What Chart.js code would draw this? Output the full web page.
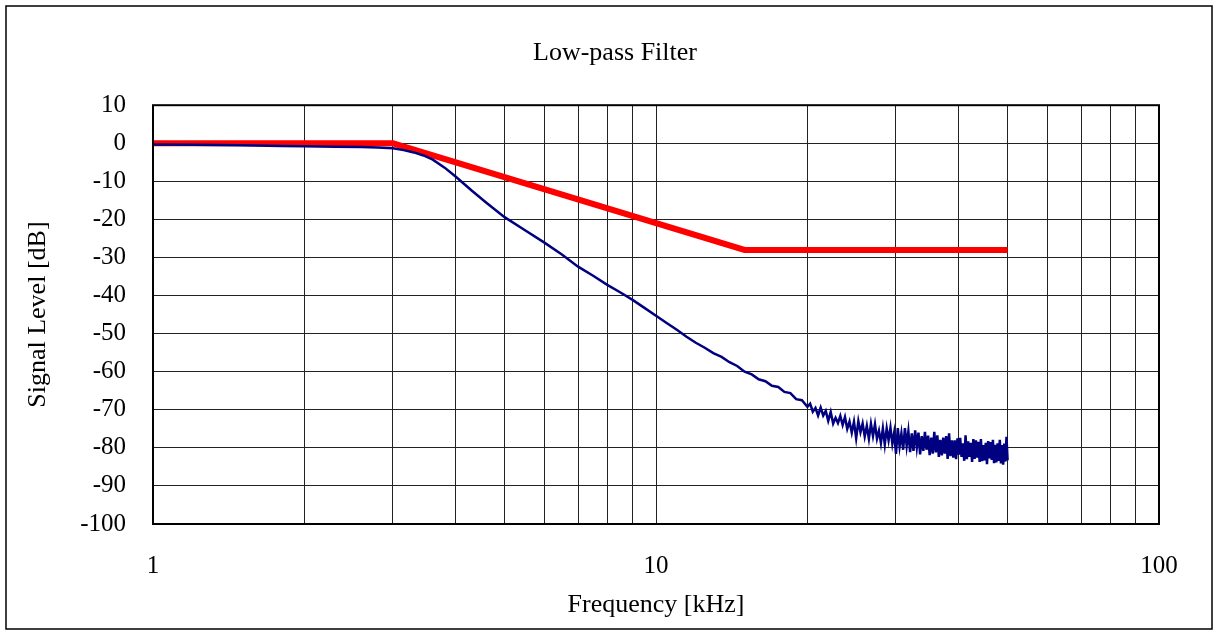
<!DOCTYPE html>
<html>
<head>
<meta charset="utf-8">
<title>Low-pass Filter</title>
<script src="https://cdn.jsdelivr.net/npm/chart.js@4"></script>
<style>
  body { margin: 0; background: #fff; }
  canvas { display: block; }
</style>
</head>
<body>
<canvas id="lpf" width="1216" height="635"></canvas>
<script>
// Measured response (blue), kHz / dB
const measuredFreq = [
  1, 1.2, 1.5, 1.8, 2, 2.3, 2.6, 2.8, 3, 3.15, 3.3, 3.45, 3.6, 3.8, 4, 4.3, 4.6,
  5, 5.5, 6, 6.5, 7, 7.5, 8, 8.5, 9, 9.5, 10, 10.5, 11, 11.5, 12,
  12.5, 13, 13.5, 14, 14.5, 15, 15.5, 16, 16.5, 17, 17.5, 18, 18.5, 19, 19.5, 20,
  20.25, 20.5, 20.75, 21, 21.25, 21.5, 21.75, 22, 22.25, 22.5, 22.75, 23,
  23.25, 23.5, 23.75, 24, 24.25, 24.5, 24.75, 25, 25.25, 25.5, 25.75, 26,
  26.25, 26.5, 26.75, 27, 27.25, 27.5, 27.75, 28, 28.25, 28.5, 28.75, 29,
  29.25, 29.5, 29.75, 30, 30.25, 30.5, 30.75, 31, 31.25, 31.5, 31.75, 32,
  32.25, 32.5, 32.75, 33, 33.25, 33.5, 33.75, 34, 34.25, 34.5, 34.75, 35,
  35.25, 35.5, 35.75, 36, 36.25, 36.5, 36.75, 37, 37.25, 37.5, 37.75, 38,
  38.25, 38.5, 38.75, 39, 39.25, 39.5, 39.75, 40, 40.25, 40.5, 40.75, 41,
  41.25, 41.5, 41.75, 42, 42.25, 42.5, 42.75, 43, 43.25, 43.5, 43.75, 44,
  44.25, 44.5, 44.75, 45, 45.25, 45.5, 45.75, 46, 46.25, 46.5, 46.75, 47,
  47.25, 47.5, 47.75, 48, 48.25, 48.5, 48.75, 49, 49.25, 49.5, 49.75, 50
];
const measuredLevel = [
  -0.3, -0.4, -0.5, -0.7, -0.8, -0.9, -1.0, -1.1, -1.3, -1.8, -2.4, -3.2, -4.3, -6.4, -8.8, -12.4, -15.6,
  -19.4, -22.9, -26.1, -29.2, -32.4, -34.8, -37.2, -39.2, -41.2, -43.3, -45.3, -47.2, -49.0, -50.8, -52.4,
  -53.7, -55.1, -56.1, -57.5, -58.5, -60.0, -60.7, -62.0, -62.5, -63.7, -64.0, -65.3, -65.6, -67.2, -67.5, -69.2,
  -68.4, -70.5, -69.5, -71.5, -69.4, -71.5, -70.3, -72.9, -70.6, -73.6, -72.1, -73.5,
  -71.6, -74.0, -71.9, -75.0, -73.1, -76.0, -73.1, -77.5, -73.0, -75.9, -73.6, -77.0,
  -74.2, -77.6, -73.7, -76.9, -73.8, -77.6, -75.5, -78.7, -74.9, -79.1, -74.9, -78.0,
  -74.7, -78.9, -76.0, -81.6, -74.8, -79.6, -76.2, -80.5, -74.8, -79.5, -75.7, -81.1,
  -76.2, -80.8, -75.4, -79.8, -76.0, -81.7, -76.9, -80.8, -75.8, -80.5, -76.8, -81.9,
  -77.3, -81.5, -75.8, -81.2, -76.7, -82.4, -77.9, -82.0, -77.3, -81.5, -76.9, -82.9,
  -76.2, -82.2, -78.0, -82.6, -78.0, -83.0, -77.5, -81.8, -77.4, -82.4, -78.8, -83.4,
  -76.7, -83.0, -78.3, -82.4, -78.7, -83.7, -77.7, -82.9, -78.0, -82.6, -78.4, -83.7,
  -77.7, -83.5, -79.3, -83.3, -78.7, -84.3, -78.2, -82.8, -78.5, -83.2, -77.9, -84.0,
  -79.2, -83.8, -78.8, -83.4, -77.9, -84.1, -79.3, -84.4, -78.9, -83.6, -77.1, -83.3
];

// Specification mask (red)
const maskFreq = [1, 3, 15, 50];
const maskLevel = [0, 0, -28, -28];

// Axes
const xGrid = [1, 2, 3, 4, 5, 6, 7, 8, 9, 10, 20, 30, 40, 50, 60, 70, 80, 90, 100];
const xTickLabels = [1, 10, 100];
const yMin = -100, yMax = 10, yStep = 10;

const serif = "'Liberation Serif', 'Times New Roman', serif";

const frame = {
  id: 'frame',
  afterDraw(chart) {
    const { ctx, chartArea: a } = chart;
    ctx.save();
    ctx.strokeStyle = '#000';
    ctx.lineWidth = 2;
    ctx.strokeRect(a.left, a.top, a.right - a.left, a.bottom - a.top);
    ctx.lineWidth = 1.5;
    ctx.strokeRect(6, 6, 1206, 623);
    ctx.restore();
  }
};

new Chart(document.getElementById('lpf'), {
  type: 'scatter',
  data: {
    datasets: [
      {
        data: measuredFreq.map((f, i) => ({ x: f, y: measuredLevel[i] })),
        showLine: true,
        borderColor: '#000080',
        borderWidth: 2.5,
        pointRadius: 0,
        tension: 0
      },
      {
        data: maskFreq.map((f, i) => ({ x: f, y: maskLevel[i] })),
        showLine: true,
        borderColor: '#ff0000',
        borderWidth: 6,
        pointRadius: 0,
        tension: 0
      }
    ]
  },
  options: {
    responsive: false,
    animation: false,
    layout: { padding: { left: 14, right: 0, top: 0, bottom: 0 } },
    plugins: {
      legend: { display: false },
      tooltip: { enabled: false },
      title: {
        display: true,
        text: 'Low-pass Filter',
        color: '#000',
        font: { family: serif, size: 26, weight: 'normal', lineHeight: 1.2 },
        padding: { top: 38, bottom: 36 }
      }
    },
    scales: {
      x: {
        type: 'logarithmic',
        min: 1,
        max: 100,
        afterFit: s => { s.height = 111; },
        afterBuildTicks: s => { s.ticks = xGrid.map(v => ({ value: v })); },
        grid: { color: '#222', lineWidth: 1, drawTicks: false },
        border: { display: false },
        ticks: {
          autoSkip: false,
          maxRotation: 0,
          padding: 27,
          color: '#000',
          font: { family: serif, size: 25, lineHeight: 1.2 },
          callback: v => xTickLabels.includes(v) ? String(v) : ''
        },
        title: {
          display: true,
          text: 'Frequency [kHz]',
          color: '#000',
          font: { family: serif, size: 26, lineHeight: 1.2 },
          padding: { top: 0, bottom: 14 }
        }
      },
      y: {
        min: yMin,
        max: yMax,
        afterFit: s => { s.width = 139; },
        grid: { color: '#222', lineWidth: 1, drawTicks: false },
        border: { display: false },
        ticks: {
          stepSize: yStep,
          autoSkip: false,
          padding: 27,
          color: '#000',
          font: { family: serif, size: 25, lineHeight: 1.2 },
          callback: v => String(v)
        },
        title: {
          display: true,
          text: 'Signal Level [dB]',
          color: '#000',
          font: { family: serif, size: 26, lineHeight: 1.2 },
          padding: { top: 9, bottom: 0 }
        }
      },
      // empty right margin
      yRight: {
        position: 'right',
        min: yMin,
        max: yMax,
        afterFit: s => { s.width = 57; },
        grid: { display: false, drawTicks: false },
        border: { display: false },
        ticks: { display: false }
      }
    }
  },
  plugins: [frame]
});
</script>
</body>
</html>
